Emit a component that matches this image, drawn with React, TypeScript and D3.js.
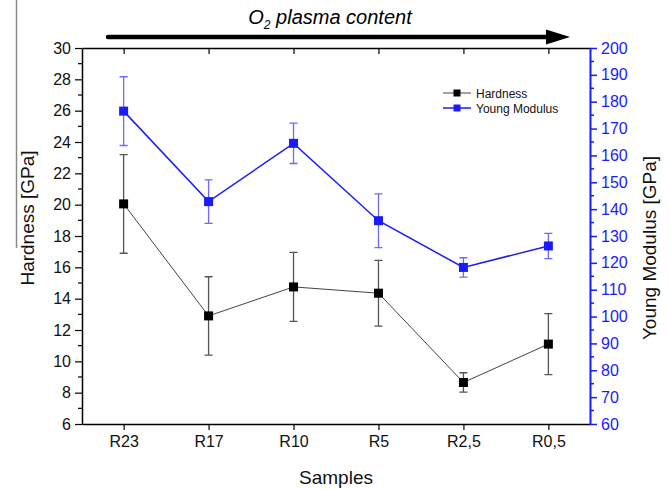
import React, {useEffect, useRef} from 'react';
import * as d3 from 'd3';

// samples, left to right = increasing O2 plasma content
const samples = ['R23', 'R17', 'R10', 'R5', 'R2,5', 'R0,5'];
const hardness = [20.05, 12.9, 14.75, 14.35, 8.65, 11.1];
const hardnessErr = [3.15, 2.5, 2.2, 2.1, 0.62, 1.95];
const young = [176.5, 142.8, 164.5, 135.7, 118.3, 126.3];
const youngErr = [12.8, 8.1, 7.5, 10.0, 3.6, 4.7];
const leftTicks = [6, 8, 10, 12, 14, 16, 18, 20, 22, 24, 26, 28, 30];
const rightTicks = [60, 70, 80, 90, 100, 110, 120, 130, 140, 150, 160, 170, 180, 190, 200];

const W = 670;
const H = 490;
const FONT = 'Liberation Sans, Arial, sans-serif';
const BLUE = '#1a1aff';

const App = () => {
    const svgRef = useRef(null);

    useEffect(() => {
        const svg = d3.select(svgRef.current);
        svg.selectAll('*').remove();

        const left = 82, right = 590, top = 48, bottom = 424;

        const x = d3.scalePoint().domain(samples).range([left, right]).padding(0.49);
        const yL = d3.scaleLinear().domain([6, 30]).range([bottom, top]);
        const yR = d3.scaleLinear().domain([60, 200]).range([bottom, top]);

        svg.append('rect').attr('width', W).attr('height', H).attr('fill', '#fff');

        // stray vertical line at left edge
        svg.append('line')
            .attr('x1', 16.5).attr('x2', 16.5).attr('y1', 0).attr('y2', 248)
            .attr('stroke', '#888').attr('stroke-width', 1.5);

        // title + arrow
        const title = svg.append('text')
            .attr('x', 330).attr('y', 24)
            .attr('text-anchor', 'middle')
            .attr('font-family', FONT).attr('font-size', 20).attr('font-style', 'italic');
        title.append('tspan').text('O');
        title.append('tspan').text('2').attr('font-size', 12).attr('dy', 5);
        title.append('tspan').text(' plasma content').attr('dy', -5);

        svg.append('line')
            .attr('x1', 108).attr('x2', 550).attr('y1', 37).attr('y2', 37)
            .attr('stroke', '#000').attr('stroke-width', 4.5).attr('stroke-linecap', 'round');
        svg.append('path')
            .attr('d', 'M546,29.5 L570,37 L546,44.5 Z')
            .attr('fill', '#000');

        // bottom axis
        const gB = svg.append('g').attr('transform', `translate(0,${bottom})`);
        gB.call(d3.axisBottom(x).tickSize(6).tickSizeOuter(0).tickPadding(6));
        gB.select('.domain').attr('stroke', '#000').attr('stroke-width', 1.5);
        gB.selectAll('.tick line').attr('stroke', '#000').attr('stroke-width', 1.2);
        gB.selectAll('text').attr('font-family', FONT).attr('font-size', 16).attr('fill', '#111');

        // top axis (ticks inward, no labels)
        const gT = svg.append('g').attr('transform', `translate(0,${top})`);
        gT.call(d3.axisBottom(x).tickSize(6).tickSizeOuter(0).tickFormat(() => ''));
        gT.select('.domain').attr('stroke', '#000').attr('stroke-width', 1.5);
        gT.selectAll('.tick line').attr('stroke', '#000').attr('stroke-width', 1.2);

        // left axis
        const gL = svg.append('g').attr('transform', `translate(${left},0)`);
        gL.call(d3.axisLeft(yL).tickValues(leftTicks).tickSize(7).tickSizeOuter(0).tickPadding(4));
        gL.select('.domain').attr('stroke', '#000').attr('stroke-width', 1.5);
        gL.selectAll('.tick line').attr('stroke', '#000').attr('stroke-width', 1.2);
        gL.selectAll('text').attr('font-family', FONT).attr('font-size', 16).attr('fill', '#111');
        gL.selectAll('.minor')
            .data(d3.range(7, 30, 2))
            .join('line')
            .attr('x1', -4).attr('x2', 0)
            .attr('y1', d => yL(d)).attr('y2', d => yL(d))
            .attr('stroke', '#000').attr('stroke-width', 1.2);

        // right axis
        const gR = svg.append('g').attr('transform', `translate(${right},0)`);
        gR.call(d3.axisRight(yR).tickValues(rightTicks).tickSize(7).tickSizeOuter(0).tickPadding(4));
        gR.select('.domain').attr('stroke', BLUE).attr('stroke-width', 2);
        gR.selectAll('.tick line').attr('stroke', BLUE).attr('stroke-width', 1.5);
        gR.selectAll('text').attr('font-family', FONT).attr('font-size', 16).attr('fill', BLUE);
        gR.selectAll('.minor')
            .data(d3.range(65, 200, 10))
            .join('line')
            .attr('x1', 0).attr('x2', 4)
            .attr('y1', d => yR(d)).attr('y2', d => yR(d))
            .attr('stroke', BLUE).attr('stroke-width', 1.5);

        // axis titles
        svg.append('text')
            .attr('transform', 'translate(34,218) rotate(-90)')
            .attr('text-anchor', 'middle')
            .attr('font-family', FONT).attr('font-size', 19).attr('fill', '#111')
            .text('Hardness [GPa]');
        svg.append('text')
            .attr('transform', 'translate(656,248) rotate(-90)')
            .attr('text-anchor', 'middle')
            .attr('font-family', FONT).attr('font-size', 19).attr('fill', '#111')
            .text('Young Modulus [GPa]');
        svg.append('text')
            .attr('x', (left + right) / 2).attr('y', 484)
            .attr('text-anchor', 'middle')
            .attr('font-family', FONT).attr('font-size', 19).attr('fill', '#111')
            .text('Samples');

        const drawSeries = (vals, errs, y, lineColor, errColor, markColor, lw) => {
            const g = svg.append('g');
            const pts = samples.map((s, i) => ({s, v: vals[i], e: errs[i]}));
            g.selectAll('.eb').data(pts).join('path')
                .attr('d', d => {
                    const cx = x(d.s), y0 = y(d.v - d.e), y1 = y(d.v + d.e);
                    return `M${cx},${y0}V${y1}M${cx - 4},${y0}H${cx + 4}M${cx - 4},${y1}H${cx + 4}`;
                })
                .attr('fill', 'none').attr('stroke', errColor).attr('stroke-width', 1.3);
            g.append('path')
                .datum(pts)
                .attr('d', d3.line().x(d => x(d.s)).y(d => y(d.v)))
                .attr('fill', 'none').attr('stroke', lineColor).attr('stroke-width', lw);
            g.selectAll('rect').data(pts).join('rect')
                .attr('x', d => x(d.s) - 4.5).attr('y', d => y(d.v) - 4.5)
                .attr('width', 9).attr('height', 9)
                .attr('fill', markColor);
        };

        drawSeries(hardness, hardnessErr, yL, '#444', '#555', '#000', 1);
        drawSeries(young, youngErr, yR, BLUE, '#6a6aff', BLUE, 1.5);

        // legend
        const legend = [
            {name: 'Hardness', color: '#444', mark: '#000', lw: 1},
            {name: 'Young Modulus', color: BLUE, mark: BLUE, lw: 1.5},
        ];
        const lg = svg.append('g').attr('transform', 'translate(443,93)');
        legend.forEach((d, i) => {
            const row = lg.append('g').attr('transform', `translate(0,${i * 15})`);
            row.append('line').attr('x1', 0).attr('x2', 28).attr('y1', 0).attr('y2', 0)
                .attr('stroke', d.color).attr('stroke-width', d.lw);
            row.append('rect').attr('x', 10.5).attr('y', -3.5).attr('width', 7).attr('height', 7)
                .attr('fill', d.mark);
            row.append('text').attr('x', 33).attr('y', 4.5)
                .attr('font-family', FONT).attr('font-size', 12).attr('fill', '#111')
                .text(d.name);
        });
    }, []);

    return (
        <svg ref={svgRef} width={W} height={H}
             style={{position: 'absolute', left: 0, top: 0, display: 'block'}}/>
    );
};

export default App;
